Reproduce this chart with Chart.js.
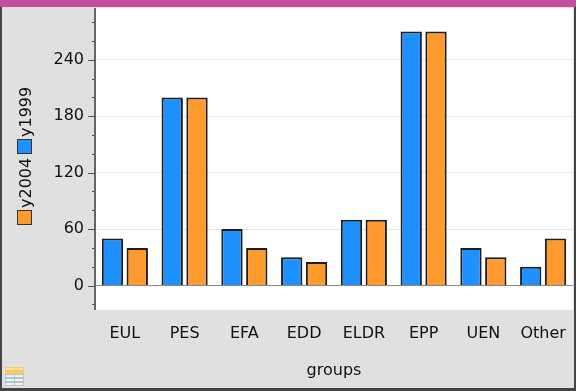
<!DOCTYPE html>
<html>
<head>
<meta charset="utf-8">
<script src="https://cdn.jsdelivr.net/npm/chart.js@4"></script>
<style>
html, body { margin: 0; padding: 0; background: #e0e0e0; overflow: hidden; }
#wrap { position: relative; width: 576px; height: 391px; }
</style>
</head>
<body>
<div id="wrap"><canvas id="groups-chart"></canvas></div>
<script>
var categories = ['EUL', 'PES', 'EFA', 'EDD', 'ELDR', 'EPP', 'UEN', 'Other'];
var y1999 = [50, 200, 60, 30, 70, 270, 40, 20];
var y2004 = [40, 200, 40, 25, 70, 270, 30, 50];
var yTicks = [-20, 0, 20, 40, 60, 80, 100, 120, 140, 160, 180, 200, 220, 240, 260, 280];
var blue = '#1e90ff';
var orange = '#ff9a2e';
var font = '"DejaVu Sans", sans-serif';

// grey panel, white plot area, window frame and table icon
var framePlugin = {
    id: 'frame',
    beforeDraw: function (chart) {
        var ctx = chart.ctx, a = chart.chartArea;
        ctx.save();
        ctx.fillStyle = '#e0e0e0';
        ctx.fillRect(0, 0, chart.width, chart.height);
        ctx.fillStyle = '#ffffff';
        ctx.fillRect(a.left, a.top, a.right - a.left, a.bottom - a.top);
        ctx.restore();
    },
    afterDraw: function (chart) {
        var ctx = chart.ctx, a = chart.chartArea, y = chart.scales.y;
        ctx.save();

        // axis line and ticks
        ctx.fillStyle = '#666666';
        ctx.fillRect(a.left - 1, a.top, 2, a.bottom - a.top);
        ctx.strokeStyle = '#555555';
        ctx.lineWidth = 1;
        y.ticks.forEach(function (t) {
            var py = Math.round(y.getPixelForValue(t.value)) + 0.5;
            var len = t.value % 60 === 0 ? 7 : 3;
            ctx.beginPath();
            ctx.moveTo(a.left - len, py);
            ctx.lineTo(a.left, py);
            ctx.stroke();
        });

        // top bar and window edges
        ctx.fillStyle = '#c24f9b';
        ctx.fillRect(0, 0, chart.width, 7);
        ctx.fillStyle = '#444444';
        ctx.fillRect(0, 7, 2, chart.height - 7);
        ctx.fillRect(0, 388, chart.width, 3);
        ctx.fillRect(574, 7, 2, chart.height - 7);

        // legend, rotated along the left side
        ctx.strokeStyle = '#333333';
        ctx.lineWidth = 1;
        ctx.fillStyle = blue;
        ctx.fillRect(17.5, 139.5, 14, 14);
        ctx.strokeRect(17.5, 139.5, 14, 14);
        ctx.fillStyle = orange;
        ctx.fillRect(17.5, 210.5, 14, 14);
        ctx.strokeRect(17.5, 210.5, 14, 14);
        ctx.fillStyle = '#111111';
        ctx.font = '16px ' + font;
        ctx.textAlign = 'left';
        ctx.textBaseline = 'alphabetic';
        ctx.save();
        ctx.translate(31, 137);
        ctx.rotate(-Math.PI / 2);
        ctx.fillText('y1999', 0, 0);
        ctx.restore();
        ctx.save();
        ctx.translate(31, 208);
        ctx.rotate(-Math.PI / 2);
        ctx.fillText('y2004', 0, 0);
        ctx.restore();

        // table icon
        ctx.fillStyle = '#ffc966';
        ctx.fillRect(5, 367, 19, 7);
        ctx.fillStyle = '#ffe2a8';
        ctx.fillRect(6, 368, 8, 2);
        ctx.fillRect(15, 368, 8, 2);
        ctx.fillStyle = '#b4c4cf';
        ctx.fillRect(5, 374, 19, 12);
        ctx.fillStyle = '#eef2f5';
        ctx.fillRect(6, 375, 8, 2);
        ctx.fillRect(15, 375, 8, 2);
        ctx.fillRect(6, 379, 8, 2);
        ctx.fillRect(15, 379, 8, 2);
        ctx.fillRect(6, 383, 8, 2);
        ctx.fillRect(15, 383, 8, 2);
        ctx.restore();
    }
};

new Chart(document.getElementById('groups-chart'), {
    type: 'bar',
    data: {
        labels: categories,
        datasets: [
            { label: 'y1999', data: y1999, backgroundColor: blue, borderColor: '#1c1c1c', borderWidth: 2 },
            { label: 'y2004', data: y2004, backgroundColor: orange, borderColor: '#1c1c1c', borderWidth: 2 }
        ]
    },
    plugins: [framePlugin],
    options: {
        responsive: true,
        maintainAspectRatio: false,
        animation: false,
        datasets: { bar: { categoryPercentage: 0.83, barPercentage: 0.86 } },
        layout: { padding: { top: 8, right: 3, left: 0, bottom: 0 } },
        plugins: { legend: { display: false }, tooltip: { enabled: false } },
        scales: {
            x: {
                afterFit: function (scale) {
                    scale.height = 81;
                    scale.paddingLeft = 0;
                    scale.paddingRight = 0;
                },
                border: { display: false },
                grid: { display: false, drawTicks: false },
                ticks: { color: '#111111', font: { family: font, size: 16 }, padding: 14, maxRotation: 0, autoSkip: false },
                title: { display: true, text: 'groups', color: '#111111', font: { family: font, size: 16 }, padding: { top: 0, bottom: 11 } }
            },
            y: {
                min: -26,
                max: 295,
                afterFit: function (scale) {
                    scale.width = 95;
                    scale.paddingTop = 0;
                    scale.paddingBottom = 0;
                },
                border: { display: false },
                grid: {
                    drawTicks: false,
                    color: function (c) {
                        if (c.tick.value === 0) return '#888888';
                        return c.tick.value % 60 === 0 ? '#e6e6e6' : 'rgba(0,0,0,0)';
                    }
                },
                ticks: {
                    stepSize: 20,
                    autoSkip: false,
                    padding: 11,
                    color: '#111111',
                    font: { family: font, size: 16 },
                    callback: function (v) { return v % 60 === 0 ? String(v) : ''; }
                },
                afterBuildTicks: function (scale) {
                    scale.ticks = yTicks.map(function (v) { return { value: v }; });
                }
            }
        }
    }
});
</script>
</body>
</html>
